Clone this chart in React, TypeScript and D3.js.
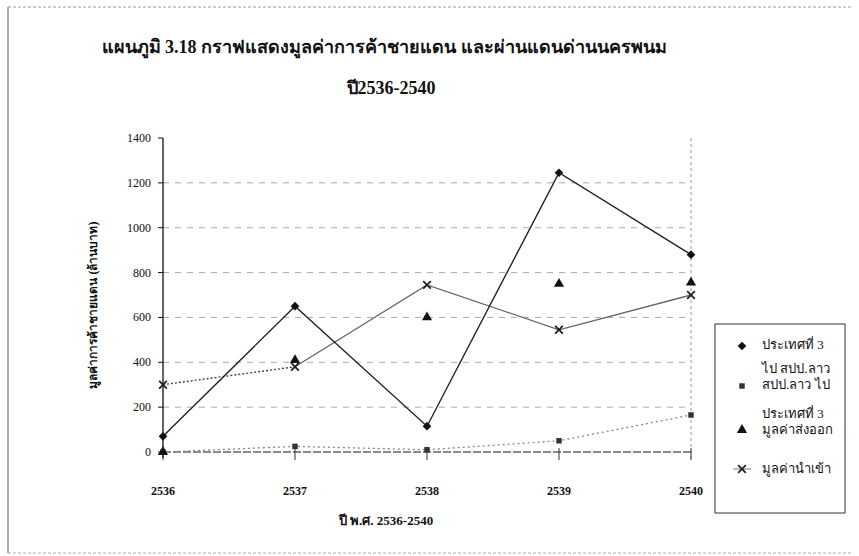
import React from "react";
import * as d3 from "d3";

const years = ["2536", "2537", "2538", "2539", "2540"];
const thirdCountry = [70, 650, 115, 1245, 880];
const laoTransit = [0, 25, 10, 50, 165];
const exportValue = [0, 410, 600, 750, 755];
const importValue = [300, 380, 745, 545, 700];
const yTicks = [0, 200, 400, 600, 800, 1000, 1200, 1400];

const titleLine1 = "แผนภูมิ 3.18  กราฟแสดงมูลค่าการค้าชายแดน และผ่านแดนด่านนครพนม";
const titleLine2 = "ปี2536-2540";
const yTitle = "มูลค่าการค้าชายแดน (ล้านบาท)";
const xTitle = "ปี พ.ศ. 2536-2540";

const W = 859;
const H = 556;
const FONT = '"Liberation Serif", "DejaVu Serif", serif';

export default function App() {
  const x = d3.scalePoint<string>().domain(years).range([163, 691]);
  const y = d3.scaleLinear().domain([0, 1400]).range([452, 138]);
  const line = d3
    .line<number>()
    .x((_, i) => x(years[i]) as number)
    .y((d) => y(d));

  const diamond = d3.symbol(d3.symbolSquare, 38)() as string;
  const square = d3.symbol(d3.symbolSquare, 30)() as string;
  const triangle = d3.symbol(d3.symbolTriangle, 45)() as string;
  const cross = d3.symbol(d3.symbolX, 40)() as string;

  const importFirst = line(importValue.slice(0, 2)) as string;
  const importRest = d3
    .line<number>()
    .x((_, i) => x(years[i + 1]) as number)
    .y((d) => y(d))(importValue.slice(1)) as string;

  const legendX = 742;
  const textX = 762;
  const txt = { fontFamily: FONT } as React.CSSProperties;

  return (
    <svg
      width={W}
      height={H}
      style={{ position: "absolute", left: 0, top: 0, background: "#fff", fontFamily: FONT }}
    >
      <rect width={W} height={H} fill="#fff" />
      {/* outer frame */}
      <line x1={8} y1={7} x2={8} y2={553} stroke="#777" strokeWidth={1.2} />
      <line x1={8} y1={7} x2={852} y2={7} stroke="#999" strokeWidth={1} strokeDasharray="3,2" />
      <line x1={8} y1={553} x2={852} y2={553} stroke="#aaa" strokeWidth={1} strokeDasharray="3,2" />

      {/* title */}
      <text x={384} y={53} textAnchor="middle" fontSize={18} fontWeight="bold" fill="#111" style={txt}>
        {titleLine1}
      </text>
      <text x={391} y={94} textAnchor="middle" fontSize={18} fontWeight="bold" fill="#111" style={txt}>
        {titleLine2}
      </text>

      {/* gridlines */}
      {yTicks.slice(1, -1).map((t) => (
        <line
          key={"g" + t}
          x1={163}
          x2={691}
          y1={y(t)}
          y2={y(t)}
          stroke="#aaa"
          strokeWidth={1}
          strokeDasharray="6,6"
        />
      ))}
      <line x1={691} x2={691} y1={y(1400)} y2={y(0) + 8} stroke="#999" strokeDasharray="3,3" />

      {/* y axis */}
      <line x1={163} x2={163} y1={y(1400)} y2={y(0) + 6} stroke="#111" strokeWidth={1.3} />
      {yTicks.map((t) => (
        <g key={"yt" + t}>
          <line x1={158} x2={163} y1={y(t)} y2={y(t)} stroke="#111" />
          <text x={151} y={y(t) + 4} textAnchor="end" fontSize={12} fill="#111" style={txt}>
            {t}
          </text>
        </g>
      ))}

      {/* x axis */}
      <line x1={163} x2={691} y1={y(0)} y2={y(0)} stroke="#666" strokeWidth={1.5} strokeDasharray="8,2" />
      {years.map((yr) => (
        <g key={"xt" + yr}>
          <line x1={x(yr)} x2={x(yr)} y1={y(0) - 4} y2={y(0) + 8} stroke="#333" />
          <text x={x(yr)} y={495} textAnchor="middle" fontSize={12} fontWeight="bold" fill="#111" style={txt}>
            {yr}
          </text>
        </g>
      ))}

      {/* axis titles */}
      <text
        transform={`translate(97,305) rotate(-90)`}
        textAnchor="middle"
        fontSize={12}
        fontWeight="bold"
        fill="#111"
        style={txt}
      >
        {yTitle}
      </text>
      <text x={386} y={525} textAnchor="middle" fontSize={13} fontWeight="bold" fill="#111" style={txt}>
        {xTitle}
      </text>

      {/* series lines */}
      <path d={line(laoTransit) as string} fill="none" stroke="#888" strokeWidth={1.3} strokeDasharray="2,3" />
      <path d={importFirst} fill="none" stroke="#444" strokeWidth={1.4} strokeDasharray="2,2" />
      <path d={importRest} fill="none" stroke="#666" strokeWidth={1.3} />
      <path d={line(thirdCountry) as string} fill="none" stroke="#222" strokeWidth={1.4} />

      {/* markers */}
      {laoTransit.map((v, i) => (
        <path key={"s" + i} d={square} transform={`translate(${x(years[i])},${y(v)})`} fill="#333" />
      ))}
      {exportValue.map((v, i) => (
        <path key={"t" + i} d={triangle} transform={`translate(${x(years[i])},${y(v)})`} fill="#111" />
      ))}
      {importValue.map((v, i) => (
        <path
          key={"x" + i}
          d={cross}
          transform={`translate(${x(years[i])},${y(v)})`}
          fill="none"
          stroke="#222"
          strokeWidth={1.8}
        />
      ))}
      {thirdCountry.map((v, i) => (
        <path
          key={"d" + i}
          d={diamond}
          transform={`translate(${x(years[i])},${y(v)}) rotate(45)`}
          fill="#111"
        />
      ))}

      {/* legend */}
      <rect x={715} y={324} width={130} height={189} fill="#fff" stroke="#333" strokeWidth={1} />
      <path d={diamond} transform={`translate(${legendX},346) rotate(45)`} fill="#111" />
      <text x={textX} y={349} fontSize={13} fill="#111" style={txt}>ประเทศที่ 3</text>

      <path d={square} transform={`translate(${legendX},386)`} fill="#333" />
      <text x={textX} y={373} fontSize={13} fill="#111" style={txt}>ไป สปป.ลาว</text>
      <text x={textX} y={389} fontSize={13} fill="#111" style={txt}>สปป.ลาว ไป</text>

      <path d={triangle} transform={`translate(${legendX},430)`} fill="#111" />
      <text x={textX} y={418} fontSize={13} fill="#111" style={txt}>ประเทศที่ 3</text>
      <text x={textX} y={434} fontSize={13} fill="#111" style={txt}>มูลค่าส่งออก</text>

      <line x1={legendX - 9} x2={legendX + 9} y1={469} y2={469} stroke="#777" />
      <path d={cross} transform={`translate(${legendX},469)`} fill="none" stroke="#222" strokeWidth={1.8} />
      <text x={textX} y={473} fontSize={13} fill="#111" style={txt}>มูลค่านำเข้า</text>
    </svg>
  );
}
